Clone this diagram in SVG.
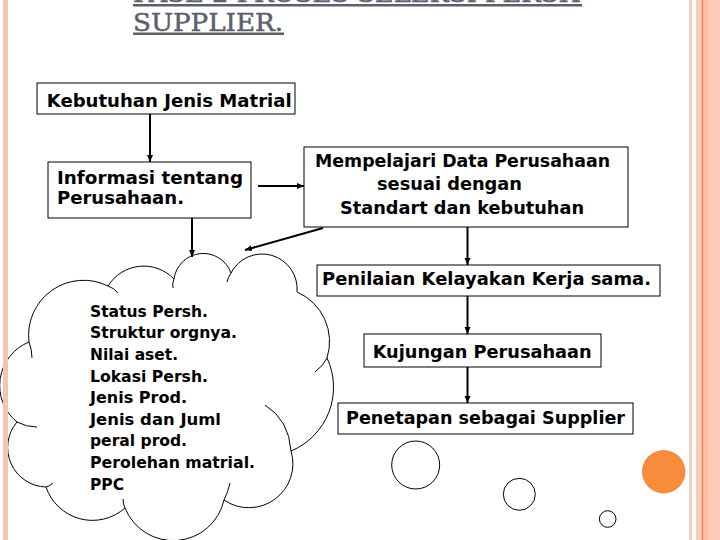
<svg xmlns="http://www.w3.org/2000/svg" width="720" height="540" viewBox="0 0 720 540">
<defs>
<marker id="ah" markerUnits="userSpaceOnUse" markerWidth="8" markerHeight="7" refX="7" refY="3.5" orient="auto"><path d="M0,0.5 L7,3.5 L0,6.5 z" fill="#000"/></marker>
</defs>
<style>
.box{fill:#fff;stroke:#000;stroke-width:1}
.t{font-family:"DejaVu Sans",Verdana,sans-serif;font-weight:bold;font-size:17.5px;fill:#000}
.c{font-size:16px}
.ln{stroke:#000;stroke-width:2;fill:none}
.cl{fill:#fff;stroke:#000;stroke-width:1}
.cr{fill:none;stroke:#000;stroke-width:1}
.ring{fill:#fff;stroke:#000;stroke-width:1}
.title{font-family:"DejaVu Serif","Liberation Serif",serif;font-size:25px;fill:#5b606b;stroke:#5b606b;stroke-width:0.5}
</style>
<rect width="720" height="540" fill="#fff"/>

<g id="title">
<text class="title" x="133" y="1.7" textLength="448" lengthAdjust="spacingAndGlyphs">FASE 2 PROSES SELEKSI PERSH</text>
<rect x="133" y="4" width="449" height="2.5" fill="#5b606b"/>
<text class="title" x="133" y="30.7" textLength="150" lengthAdjust="spacingAndGlyphs">SUPPLIER.</text>
<rect x="133" y="32.5" width="151" height="2.5" fill="#5b606b"/>
</g>

<g id="cloud">
<path class="cl" d="M29,342 A55,55 0 0 1 108,286 A42,42 0 0 1 174,279 A29.5,29.5 0 0 1 231,273 A35,35 0 0 1 297,292 A54,54 0 0 1 327,358 A69,69 0 0 1 291,451 A44,44 0 0 1 224,500 A52,52 0 0 1 125,508 A49,49 0 0 1 46,487 A39.5,39.5 0 0 1 17,422 A47,47 0 0 1 29,342 Z"/>
<path class="cr" d="M108,286 Q114,288 118,293"/>
<path class="cr" d="M173,288 Q172,283 174,279"/>
<path class="cr" d="M227,282 Q228,277 231,273"/>
<path class="cr" d="M327,358 Q323,366 315,372"/>
<path class="cr" d="M265,405 Q289,420 291,451"/>
<path class="cr" d="M224,500 Q228,492 230,483"/>
<path class="cr" d="M125,508 Q123,504 123,499"/>
<path class="cr" d="M46,487 Q50,486 53,483"/>
<path class="cr" d="M17,422 Q26,427 37,427"/>
<path class="cr" d="M29,342 Q32,350 32,358"/>
<text class="t c" x="90" y="316.7" textLength="118" lengthAdjust="spacingAndGlyphs">Status Persh.</text>
<text class="t c" x="90" y="338.3" textLength="147" lengthAdjust="spacingAndGlyphs">Struktur orgnya.</text>
<text class="t c" x="90" y="360" textLength="88" lengthAdjust="spacingAndGlyphs">Nilai aset.</text>
<text class="t c" x="90" y="381.6" textLength="118" lengthAdjust="spacingAndGlyphs">Lokasi Persh.</text>
<text class="t c" x="90" y="403.2" textLength="97" lengthAdjust="spacingAndGlyphs">Jenis Prod.</text>
<text class="t c" x="90" y="424.8" textLength="131" lengthAdjust="spacingAndGlyphs">Jenis dan Juml</text>
<text class="t c" x="90" y="446.4" textLength="97" lengthAdjust="spacingAndGlyphs">peral prod.</text>
<text class="t c" x="90" y="468" textLength="165" lengthAdjust="spacingAndGlyphs">Perolehan matrial.</text>
<text class="t c" x="90" y="489.6" textLength="34" lengthAdjust="spacingAndGlyphs">PPC</text>
</g>

<g id="n1">
<rect class="box" x="37" y="83" width="258" height="31"/>
<text class="t" x="46.7" y="106.7" textLength="245" lengthAdjust="spacingAndGlyphs">Kebutuhan Jenis Matrial</text>
</g>
<g id="n2">
<rect class="box" x="48" y="162" width="203" height="56"/>
<text class="t" x="57" y="184" textLength="186" lengthAdjust="spacingAndGlyphs">Informasi tentang</text>
<text class="t" x="57" y="204" textLength="127" lengthAdjust="spacingAndGlyphs">Perusahaan.</text>
</g>
<g id="n3">
<rect class="box" x="304" y="147" width="324" height="80"/>
<text class="t" x="315" y="166.7" textLength="295" lengthAdjust="spacingAndGlyphs">Mempelajari Data Perusahaan</text>
<text class="t" x="377" y="190" textLength="145" lengthAdjust="spacingAndGlyphs">sesuai dengan</text>
<text class="t" x="340" y="214" textLength="244" lengthAdjust="spacingAndGlyphs">Standart dan kebutuhan</text>
</g>
<g id="n4">
<rect class="box" x="317" y="265" width="343" height="31"/>
<text class="t" x="322" y="285.3" textLength="329" lengthAdjust="spacingAndGlyphs">Penilaian Kelayakan Kerja sama.</text>
</g>
<g id="n5">
<rect class="box" x="364" y="334" width="237" height="33"/>
<text class="t" x="372.7" y="357.7" textLength="219" lengthAdjust="spacingAndGlyphs">Kujungan Perusahaan</text>
</g>
<g id="n6">
<rect class="box" x="338" y="403" width="295" height="31"/>
<text class="t" x="346" y="424.3" textLength="279" lengthAdjust="spacingAndGlyphs">Penetapan sebagai Supplier</text>
</g>

<g id="connectors">
<line class="ln" x1="150" y1="114" x2="150" y2="162" marker-end="url(#ah)"/>
<line class="ln" x1="258" y1="186" x2="304" y2="186" marker-end="url(#ah)"/>
<line class="ln" x1="467.5" y1="227" x2="467.5" y2="265" marker-end="url(#ah)"/>
<line class="ln" x1="323" y1="228" x2="245" y2="250" marker-end="url(#ah)"/>
<line class="ln" x1="192" y1="218" x2="192" y2="257" marker-end="url(#ah)"/>
<line class="ln" x1="467.5" y1="296" x2="467.5" y2="334" marker-end="url(#ah)"/>
<line class="ln" x1="467.5" y1="367" x2="467.5" y2="403" marker-end="url(#ah)"/>
</g>

<g id="decor">
<circle class="ring" cx="415.7" cy="465" r="24"/>
<circle class="ring" cx="519.3" cy="494.3" r="16"/>
<circle class="ring" cx="607.7" cy="519" r="8.3"/>
<circle cx="663.7" cy="471.7" r="21.7" fill="#f98b3d"/>
<rect x="3" y="0" width="5" height="540" fill="#f5c4b0"/>
<rect x="689" y="0" width="3" height="540" fill="#f5cfc1"/>
<rect x="696" y="0" width="24" height="540" fill="#fccab5"/>
<rect x="703" y="0" width="5" height="540" fill="#fdbfa3"/>
<rect x="701.8" y="0" width="1.4" height="540" fill="#e58c58"/>
</g>
</svg>
